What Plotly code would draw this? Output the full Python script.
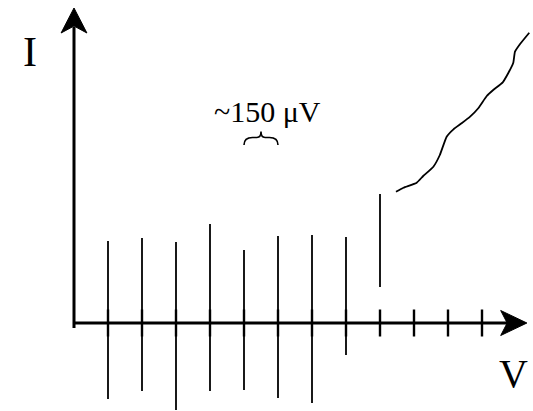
import plotly.graph_objects as go

# Voltage steps (in units of one step) and the current spikes at each step
step_v = [1, 2, 3, 4, 5, 6, 7, 8, 9, 10, 11, 12]
spike_v = [1, 2, 3, 4, 5, 6, 7, 8, 9]
spike_top = [8.2, 8.5, 8.1, 9.9, 7.3, 8.7, 8.8, 8.6, 12.9]
spike_bottom = [-7.6, -6.8, -8.7, -6.8, -6.7, -7.5, -8.0, -3.2, 3.6]

# Continuous I-V branch above the last step
curve_v = [9.47, 9.69, 10.08, 10.27, 10.57, 10.76, 10.96, 11.16, 11.40, 11.65,
           11.89, 12.14, 12.33, 12.61, 12.77, 12.92, 12.97, 13.12, 13.39]
curve_i = [13.13, 13.53, 14.03, 14.7, 15.63, 16.8, 18.63, 19.37, 19.97, 20.63,
           21.47, 22.7, 23.3, 24.07, 24.97, 26.03, 27.13, 27.9, 29.03]

spacing_label = "~150 μV"
brace_from, brace_to = 5, 6

TICK = 1.35
FONT = "Liberation Serif, Times New Roman, serif"

fig = go.Figure()

# vertical spikes
sx, sy = [], []
for v, t, b in zip(spike_v, spike_top, spike_bottom):
    sx += [v, v, None]
    sy += [b, t, None]
fig.add_trace(go.Scatter(x=sx, y=sy, mode="lines",
                         line=dict(color="black", width=1.8), hoverinfo="skip"))

# tick marks on the V axis
tx, ty = [], []
for v in step_v:
    tx += [v, v, None]
    ty += [-TICK, TICK, None]
fig.add_trace(go.Scatter(x=tx, y=ty, mode="lines",
                         line=dict(color="black", width=2.4), hoverinfo="skip"))

# smooth branch
fig.add_trace(go.Scatter(x=curve_v, y=curve_i, mode="lines",
                         line=dict(color="black", width=1.8, shape="spline", smoothing=0.4),
                         hoverinfo="skip"))

shapes = [
    # axes
    dict(type="line", x0=-0.03, y0=0, x1=12.8, y1=0, line=dict(color="black", width=3)),
    dict(type="line", x0=0, y0=-0.5, x1=0, y1=29.6, line=dict(color="black", width=3)),
    # arrowheads
    dict(type="path", path="M 13.32,0 L 12.55,1.25 L 12.74,0 L 12.55,-1.25 Z",
         fillcolor="black", line=dict(color="black", width=1)),
    dict(type="path", path="M 0,31.5 L -0.38,29.0 L 0,29.7 L 0.38,29.0 Z",
         fillcolor="black", line=dict(color="black", width=1)),
]

# brace marking one step
a, b = brace_from, brace_to
m = (a + b) / 2
brace = (f"M {a},17.8 Q {a},18.55 {a+0.25},18.55 L {m-0.12},18.55 "
         f"Q {m},18.55 {m},19.15 Q {m},18.55 {m+0.12},18.55 "
         f"L {b-0.25},18.55 Q {b},18.55 {b},17.8")
shapes.append(dict(type="path", path=brace, line=dict(color="black", width=1.6)))

annotations = [
    dict(x=-1.29, y=27.1, text="I", showarrow=False,
         font=dict(family=FONT, size=42, color="black")),
    dict(x=12.94, y=-5.0, text="V", showarrow=False,
         font=dict(family=FONT, size=40, color="black")),
    dict(x=5.69, y=21.2, text=spacing_label, showarrow=False,
         font=dict(family=FONT, size=30, color="black")),
]

fig.update_layout(
    width=533, height=411,
    margin=dict(l=0, r=0, t=0, b=0),
    paper_bgcolor="white", plot_bgcolor="white",
    showlegend=False,
    shapes=shapes, annotations=annotations,
    xaxis=dict(range=[-74 / 34, (533 - 74) / 34], visible=False),
    yaxis=dict(range=[-8.8, 32.3], visible=False),
)

fig.write_html("out.html")
